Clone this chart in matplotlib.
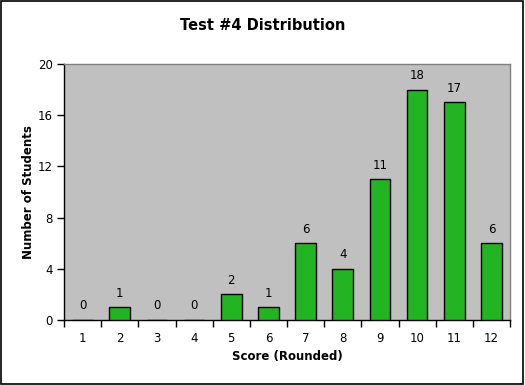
import matplotlib
matplotlib.use("Agg")
import matplotlib.pyplot as plt
from matplotlib.patches import Rectangle

# score buckets and student counts
scores = [1, 2, 3, 4, 5, 6, 7, 8, 9, 10, 11, 12]
counts = [0, 1, 0, 0, 2, 1, 6, 4, 11, 18, 17, 6]
yticks = [0, 4, 8, 12, 16, 20]

plt.rcParams['font.family'] = ['DejaVu Sans']

fig = plt.figure(figsize=(5.25, 3.85), dpi=100)
ax = fig.add_axes([64 / 525, 1 - 320 / 385, (510 - 64) / 525, (320 - 64) / 385])

ax.set_facecolor('#c0c0c0')
ax.bar(scores, counts, width=0.56, color='#22b422', edgecolor='black', linewidth=1.0, zorder=3)

for x, c in zip(scores, counts):
    ax.text(x, c + 0.6, str(c), ha='center', va='bottom', fontsize=8.5, color='black')

ax.set_xlim(0.5, 12.5)
ax.set_ylim(0, 20)
ax.set_yticks(yticks)
ax.set_xticks(scores)
ax.set_xticks([s + 0.5 for s in [0] + scores], minor=True)
ax.tick_params(axis='x', which='major', length=0, pad=9, labelsize=8.5)
ax.tick_params(axis='x', which='minor', length=5, width=1, direction='out')
ax.tick_params(axis='y', length=5, width=1, direction='out', labelsize=8.5, pad=3)

for side in ['top', 'right']:
    ax.spines[side].set_color('#808080')
    ax.spines[side].set_linewidth(1)
for side in ['left', 'bottom']:
    ax.spines[side].set_color('black')
    ax.spines[side].set_linewidth(1)

ax.set_xlabel('Score (Rounded)', fontsize=8.5, fontweight='bold', labelpad=3)
ax.set_ylabel('Number of Students', fontsize=8.5, fontweight='bold', labelpad=2)
fig.text(0.5, 1 - 25 / 385, 'Test #4 Distribution', ha='center', va='center',
         fontsize=10.5, fontweight='bold')

fig.patches.append(Rectangle((0.002, 0.002), 0.995, 0.995, transform=fig.transFigure,
                             fill=False, edgecolor='black', linewidth=1.2))

fig.savefig('out.png', dpi=100)
